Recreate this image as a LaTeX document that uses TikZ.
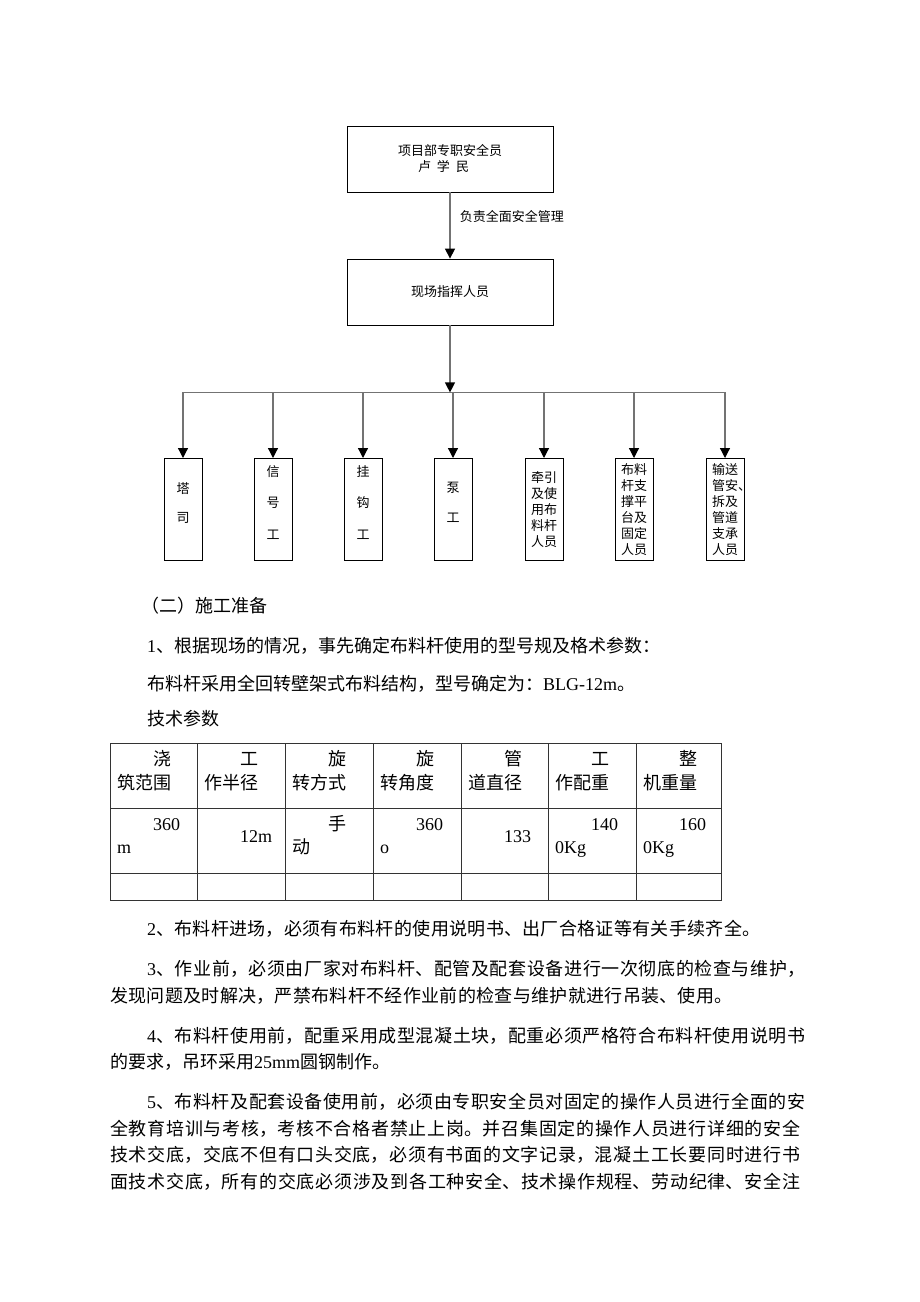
\documentclass[tikz,border=0pt]{standalone}
\usepackage{fontspec}
\setmainfont{Noto Sans CJK SC}
\newfontfamily\tnr{Liberation Serif}
\usepackage{xcolor}
\usepackage{tikz}
\usetikzlibrary{arrows.meta,calc,positioning}
\XeTeXlinebreaklocale "zh"
\XeTeXlinebreakskip=0pt plus 2pt
\newcommand{\bodyfont}{\fontsize{18}{24}\selectfont}
\newcommand{\chartfont}{\fontsize{13}{16}\selectfont}
\newcommand{\fullline}[2]{\parbox[b]{#1}{\parfillskip=0pt\relax #2}}

\begin{document}
\begin{tikzpicture}[x=1pt,y=-1pt,>=latex]
\tikzstyle{topbox}=[rectangle,draw=black,line width=0.8pt,minimum width=206,minimum height=66,
                    inner sep=2pt,font=\chartfont,align=left]
\tikzstyle{workbox}=[rectangle,draw=black,line width=0.8pt,minimum width=38,minimum height=102,
                     inner sep=1pt,anchor=north,font=\chartfont,align=center]
\tikzstyle{arrow}=[-{Triangle[length=10pt,width=10pt,color=black]},draw=black!55,line width=1.2pt]
\tikzstyle{link}=[draw=black!55,line width=1.2pt]
\tikzstyle{txt}=[anchor=base west,inner sep=0pt,font=\bodyfont]
\tikzstyle{cell}=[anchor=base west,inner sep=0pt,font=\bodyfont]
\tikzstyle{grid}=[draw=black!80,line width=0.8pt]

\useasboundingbox (0,0) rectangle (920,1302);

% --- Safety officer and site command ---
\node[topbox] (safety) at (450,159) {项目部专职安全员\\\hspace{20pt}卢\hspace{6pt}学\hspace{6pt}民};
\node[topbox,align=center] (command) at (450,292) {现场指挥人员};
\draw[arrow] (safety.south) -- node[right,pos=0.36,xshift=6pt,font=\chartfont] (duty)
  {负责全面安全管理} (command.north);

% --- Workers ---
\coordinate (bus) at ([yshift=-67pt]command.south);
\node[workbox,text depth=14pt] (tower)  at (183,458) {塔\\[13pt]司};
\node[workbox,text depth=14pt] (signal) at (273,458) {信\\[15.5pt]号\\[15.5pt]工};
\node[workbox,text depth=14pt] (hook)   at (363,458) {挂\\[15.5pt]钩\\[15.5pt]工};
\node[workbox,text depth=14pt] (pump)   at (453,458) {泵\\[14pt]工};
\node[workbox] (tow)    at (544,458) {牵引\\及使\\用布\\料杆\\人员};
\node[workbox] (boom)   at (634,458) {布料\\杆支\\撑平\\台及\\固定\\人员};
\node[workbox] (pipe)   at (725,458) {输送\\管安\rlap{、}\\拆及\\管道\\支承\\人员};

\draw[link] (tower.north |- bus) -- (pipe.north |- bus);
\draw[arrow] (command.south) -- (bus);
\draw[arrow] (tower.north |- bus) -- (tower.north);
\draw[arrow] (signal.north |- bus) -- (signal.north);
\draw[arrow] (hook.north |- bus) -- (hook.north);
\draw[arrow] (pump.north |- bus) -- (pump.north);
\draw[arrow] (tow.north |- bus) -- (tow.north);
\draw[arrow] (boom.north |- bus) -- (boom.north);
\draw[arrow] (pipe.north |- bus) -- (pipe.north);

% --- Preparation ---
\node[txt] (prep)   at (141,612) {（二）施工准备};
\node[txt] (item1)  at (147,652) {{\tnr 1}、根据现场的情况，事先确定布料杆使用的型号规及格术参数：};
\node[txt] (model)  at (147,690) {布料杆采用全回转壁架式布料结构，型号确定为：{\tnr BLG-12m}。};
\node[txt] (params) at (147,725) {技术参数};

% --- Parameter table ---
\draw[grid] (110,743) rectangle (721,900);
\draw[grid] (110,808) -- (721,808);
\draw[grid] (110,873) -- (721,873);
\draw[grid] (197,743) -- (197,900);
\draw[grid] (285,743) -- (285,900);
\draw[grid] (373,743) -- (373,900);
\draw[grid] (461,743) -- (461,900);
\draw[grid] (548,743) -- (548,900);
\draw[grid] (636,743) -- (636,900);

\node[cell] (rangeA)  at (153,765) {浇};   \node[cell] (rangeB)  at (117,789) {筑范围};
\node[cell] (radiusA) at (240,765) {工};   \node[cell] (radiusB) at (204,789) {作半径};
\node[cell] (modeA)   at (328,765) {旋};   \node[cell] (modeB)   at (292,789) {转方式};
\node[cell] (angleA)  at (416,765) {旋};   \node[cell] (angleB)  at (380,789) {转角度};
\node[cell] (diamA)   at (504,765) {管};   \node[cell] (diamB)   at (468,789) {道直径};
\node[cell] (weightA) at (591,765) {工};   \node[cell] (weightB) at (555,789) {作配重};
\node[cell] (massA)   at (679,765) {整};   \node[cell] (massB)   at (643,789) {机重量};

\node[cell] (rangeV)   at (153,830) {\tnr 360};  \node[cell] (rangeU)  at (117,853) {\tnr m};
\node[cell] (radiusV)  at (240,842) {\tnr 12m};
\node[cell] (modeV)    at (328,830) {手};        \node[cell] (modeU)   at (292,853) {动};
\node[cell] (angleV)   at (416,830) {\tnr 360};  \node[cell] (angleU)  at (380,853) {\tnr o};
\node[cell] (diamV)    at (504,842) {\tnr 133};
\node[cell] (weightV)  at (591,830) {\tnr 140};  \node[cell] (weightU) at (555,853) {\tnr 0Kg};
\node[cell] (massV)    at (679,830) {\tnr 160};  \node[cell] (massU)   at (643,853) {\tnr 0Kg};

% --- Items 2 to 5 ---
\node[txt] (item2)  at (147,935)  {\fullline{613pt}{{\tnr 2}、布料杆进场，必须有布料杆的使用说明书、出厂合格证等有关手续齐全。}};
\node[txt] (item3)  at (147,975)  {\fullline{658pt}{{\tnr 3}、作业前，必须由厂家对布料杆、配管及配套设备进行一次彻底的检查与维护，}};
\node[txt] (item3b) at (110,1002) {\fullline{622pt}{发现问题及时解决，严禁布料杆不经作业前的检查与维护就进行吊装、使用。}};
\node[txt] (item4)  at (147,1042) {\fullline{658pt}{{\tnr 4}、布料杆使用前，配重采用成型混凝土块，配重必须严格符合布料杆使用说明书}};
\node[txt] (item4b) at (110,1068) {的要求，吊环采用{\tnr 25mm}圆钢制作。};
\node[txt] (item5)  at (147,1108) {\fullline{658pt}{{\tnr 5}、布料杆及配套设备使用前，必须由专职安全员对固定的操作人员进行全面的安}};
\node[txt] (item5b) at (110,1135) {\fullline{690pt}{全教育培训与考核，考核不合格者禁止上岗。并召集固定的操作人员进行详细的安全}};
\node[txt] (item5c) at (110,1161) {\fullline{690pt}{技术交底，交底不但有口头交底，必须有书面的文字记录，混凝土工长要同时进行书}};
\node[txt] (item5d) at (110,1188) {\fullline{690pt}{面技术交底，所有的交底必须涉及到各工种安全、技术操作规程、劳动纪律、安全注}};

\end{tikzpicture}
\end{document}
